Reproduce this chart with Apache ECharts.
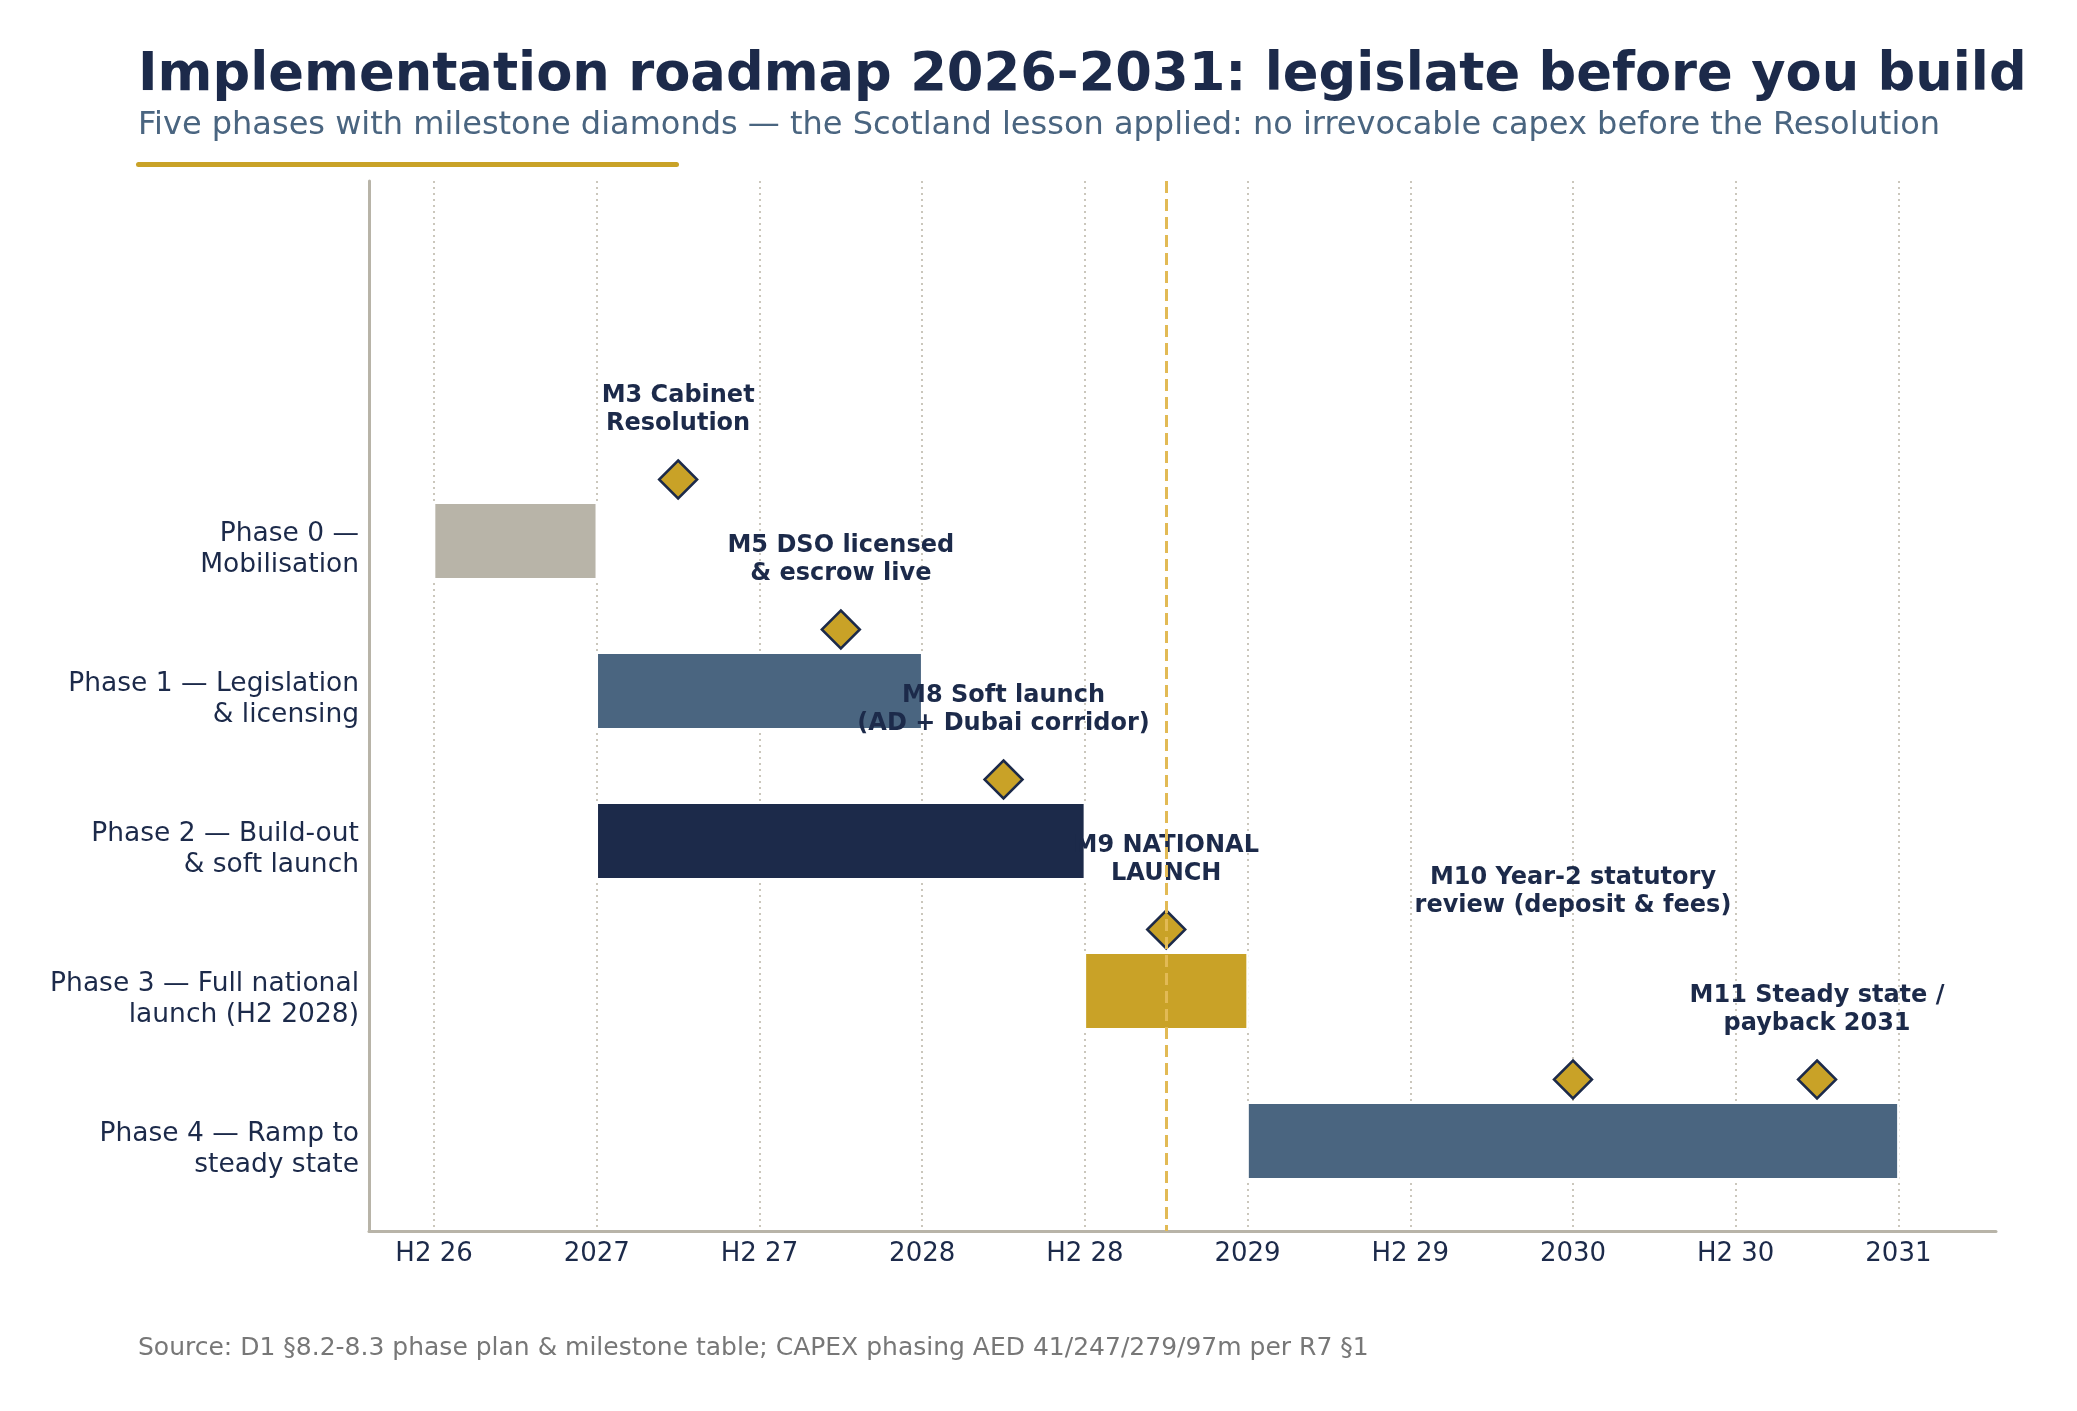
<!DOCTYPE html>
<html>
<head>
<meta charset="utf-8">
<script src="https://cdn.jsdelivr.net/npm/echarts@6/dist/echarts.min.js"></script>
<style>
  html, body { margin: 0; padding: 0; background: #fff; }
  #roadmap { width: 2077px; height: 1411px; }
</style>
</head>
<body>
<div id="roadmap"></div>
<script>
// phases (rows top to bottom), start / end in decimal years
var phaseLabels = [
  'Phase 0 —\nMobilisation',
  'Phase 1 — Legislation\n& licensing',
  'Phase 2 — Build-out\n& soft launch',
  'Phase 3 — Full national\nlaunch (H2 2028)',
  'Phase 4 — Ramp to\nsteady state'
];
var phaseStart = [2026.5, 2027.0, 2027.0, 2028.5, 2029.0];
var phaseEnd = [2027.0, 2028.0, 2028.5, 2029.0, 2031.0];

// milestones
var milestoneNames = [
  'M3 Cabinet\nResolution',
  'M5 DSO licensed\n& escrow live',
  'M8 Soft launch\n(AD + Dubai corridor)',
  'M9 NATIONAL\nLAUNCH',
  'M10 Year-2 statutory\nreview (deposit & fees)',
  'M11 Steady state /\npayback 2031'
];
var milestoneDates = [2027.25, 2027.75, 2028.25, 2028.75, 2030.0, 2030.75];
var milestoneRows = [0, 1, 2, 3, 4, 4];

var launchDate = 2028.75;

// x ticks
var tickValues = [2026.5, 2027, 2027.5, 2028, 2028.5, 2029, 2029.5, 2030, 2030.5, 2031];
var tickLabels = ['H2 26', '2027', 'H2 27', '2028', 'H2 28', '2029', 'H2 29', '2030', 'H2 30', '2031'];

// styles
var NAVY = '#1C2A4A';
var SLATE = '#4A6580';
var GOLD = '#C9A227';
var STONE = '#B8B4A8';
var phaseColors = [STONE, SLATE, NAVY, GOLD, SLATE];
var FONT = 'DejaVu Sans';
var diamondLift = 0.41;      // diamonds sit just above their bar
var labelRaise = { 'M10': 118 }; // keep M10 text clear of M11

var chart = echarts.init(document.getElementById('roadmap'));

var barData = phaseStart.map(function (s, i) { return [i, s, phaseEnd[i]]; });

var msData = milestoneDates.map(function (d, i) {
  var name = milestoneNames[i];
  var key = name.split(' ')[0];
  var item = { name: name, value: [d, milestoneRows[i] - diamondLift] };
  if (labelRaise[key]) {
    item.label = { offset: [0, -labelRaise[key]] };
  }
  return item;
});

var option = {
  backgroundColor: '#fff',
  animation: false,
  textStyle: { fontFamily: FONT },
  title: [
    {
      text: 'Implementation roadmap 2026-2031: legislate before you build',
      left: 138, top: 50, padding: 0,
      textStyle: { fontFamily: FONT, fontSize: 52.7, fontWeight: 'bold', color: NAVY }
    },
    {
      text: 'Five phases with milestone diamonds — the Scotland lesson applied: no irrevocable capex before the Resolution',
      left: 138, top: 110, padding: 0,
      textStyle: { fontFamily: FONT, fontSize: 32, fontWeight: 'normal', color: SLATE }
    },
    {
      text: 'Source: D1 §8.2-8.3 phase plan & milestone table; CAPEX phasing AED 41/247/279/97m per R7 §1',
      left: 138, top: 1336, padding: 0,
      textStyle: { fontFamily: FONT, fontSize: 25, fontWeight: 'normal', color: '#777777' }
    }
  ],
  graphic: [
    {
      type: 'rect',
      shape: { x: 136, y: 162, width: 543, height: 5, r: 2.5 },
      style: { fill: GOLD }
    }
  ],
  grid: { left: 369, right: 81, top: 181, bottom: 180 },
  xAxis: {
    type: 'value',
    min: 2026.3,
    max: 2031.3,
    axisLine: { onZero: false, lineStyle: { color: STONE, width: 3 } },
    axisTick: { show: false, customValues: tickValues },
    axisLabel: {
      customValues: tickValues,
      margin: 10,
      fontSize: 26,
      color: NAVY,
      fontFamily: FONT,
      formatter: function (v) {
        var i = tickValues.indexOf(v);
        return i >= 0 ? tickLabels[i] : '';
      }
    },
    splitLine: {
      show: true,
      lineStyle: { color: '#CBC7BC', width: 2, type: [2, 4] }
    }
  },
  yAxis: {
    type: 'value',
    inverse: true,
    min: -2.4,
    max: 4.6,
    axisLine: { show: true, onZero: false, lineStyle: { color: STONE, width: 3 } },
    axisTick: { show: false, customValues: [0, 1, 2, 3, 4] },
    axisLabel: {
      customValues: [0, 1, 2, 3, 4],
      margin: 10,
      align: 'right',
      formatter: function (v) {
        var txt = phaseLabels[v];
        if (txt === undefined) return '';
        // small empty spacer line nudges the two text lines down a touch
        return '{gap| }\n' + txt.split('\n').map(function (l) { return '{t|' + l + '}'; }).join('\n');
      },
      rich: {
        gap: { fontSize: 2, lineHeight: 18 },
        t: { fontSize: 26.5, lineHeight: 31, color: NAVY, fontFamily: FONT, align: 'right' }
      }
    },
    splitLine: { show: true, lineStyle: { color: '#ffffff', width: 2 } }
  },
  series: [
    {
      type: 'custom',
      z: 2,
      encode: { x: [1, 2], y: 0 },
      data: barData,
      renderItem: function (params, api) {
        var row = api.value(0);
        var p0 = api.coord([api.value(1), row]);
        var p1 = api.coord([api.value(2), row]);
        var h = api.size([0, 1])[1] * 0.51;
        return {
          type: 'rect',
          shape: { x: p0[0], y: p0[1] - h / 2, width: p1[0] - p0[0], height: h },
          style: { fill: phaseColors[row], stroke: '#ffffff', lineWidth: 2.5 }
        };
      }
    },
    {
      type: 'scatter',
      z: 4,
      symbol: 'diamond',
      symbolSize: 38,
      itemStyle: { color: GOLD, borderColor: NAVY, borderWidth: 2.5, opacity: 1 },
      label: {
        show: true,
        position: 'top',
        distance: 21,
        formatter: '{b}',
        align: 'center',
        fontFamily: FONT,
        fontSize: 24,
        fontWeight: 'bold',
        lineHeight: 28,
        color: NAVY
      },
      data: msData,
      markLine: {
        silent: true,
        symbol: ['none', 'none'],
        label: { show: false },
        lineStyle: { color: '#E2BA55', width: 3, type: [12, 6] },
        data: [{ xAxis: launchDate }]
      }
    }
  ]
};

chart.setOption(option);
</script>
</body>
</html>
